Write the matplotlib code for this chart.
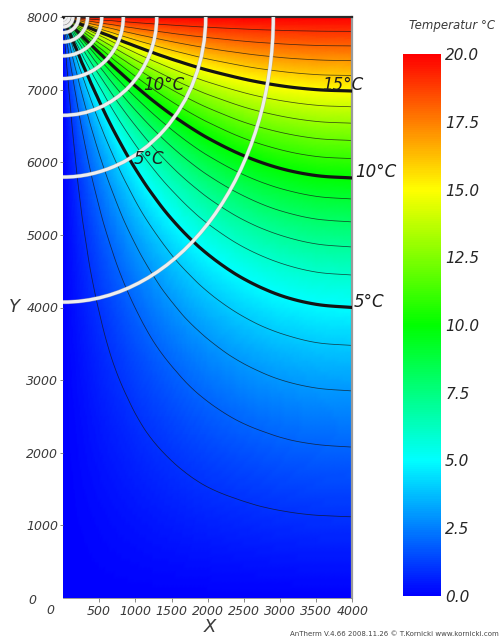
import numpy as np
import matplotlib
matplotlib.use('Agg')
import matplotlib.pyplot as plt
import matplotlib.tri as mtri
from matplotlib.colors import LinearSegmentedColormap, Normalize
from matplotlib.cm import ScalarMappable
from matplotlib.patches import Arc
import matplotlib.patheffects as pe

# ---------------- data (read / estimated from the picture) ----------------
x_grid = [0, 100, 200, 350, 500, 750, 1000, 1250, 1500, 1750, 2000, 2500, 3000, 3500, 4000]
depth_grid = [0, 100, 200, 350, 500, 750, 1000, 1250, 1500, 1750, 2000, 2250, 2500,
              3000, 3500, 4000, 4500, 5000, 5500, 6000, 6500, 7000, 7500, 8000]
# temperature (°C), one row per depth below the top edge (y = 8000 - depth)
temp_rows = [
    [10.0, 20.0, 20.0, 20.0, 20.0, 20.0, 20.0, 20.0, 20.0, 20.0, 20.0, 20.0, 20.0, 20.0, 20.0],
    [0.0, 10.00, 14.09, 16.44, 17.47, 18.29, 18.70, 18.94, 19.10, 19.21, 19.29, 19.40, 19.46, 19.49, 19.50],
    [0.0, 5.90, 9.99, 13.37, 15.12, 16.63, 17.42, 17.89, 18.21, 18.43, 18.58, 18.79, 18.91, 18.97, 18.99],
    [0.0, 3.53, 6.59, 9.96, 12.16, 14.35, 15.59, 16.37, 16.90, 17.27, 17.54, 17.90, 18.10, 18.21, 18.24],
    [0.0, 2.50, 4.81, 7.72, 9.91, 12.38, 13.92, 14.94, 15.64, 16.14, 16.52, 17.01, 17.30, 17.45, 17.50],
    [0.0, 1.66, 3.27, 5.47, 7.36, 9.81, 11.55, 12.79, 13.70, 14.38, 14.89, 15.58, 15.99, 16.21, 16.27],
    [0.0, 1.24, 2.45, 4.17, 5.73, 7.94, 9.66, 10.98, 11.99, 12.77, 13.38, 14.22, 14.73, 15.00, 15.09],
    [0.0, 0.97, 1.94, 3.33, 4.64, 6.57, 8.17, 9.47, 10.51, 11.34, 12.00, 12.95, 13.52, 13.84, 13.94],
    [0.0, 0.80, 1.59, 2.75, 3.85, 5.53, 6.98, 8.21, 9.23, 10.07, 10.75, 11.76, 12.38, 12.73, 12.84],
    [0.0, 0.67, 1.33, 2.31, 3.26, 4.72, 6.03, 7.17, 8.14, 8.96, 9.64, 10.66, 11.31, 11.68, 11.80],
    [0.0, 0.57, 1.14, 1.98, 2.80, 4.08, 5.25, 6.29, 7.20, 7.98, 8.64, 9.65, 10.32, 10.69, 10.81],
    [0.0, 0.49, 0.99, 1.72, 2.43, 3.56, 4.60, 5.55, 6.39, 7.12, 7.75, 8.73, 9.39, 9.76, 9.88],
    [0.0, 0.43, 0.86, 1.50, 2.12, 3.12, 4.06, 4.91, 5.68, 6.36, 6.96, 7.89, 8.53, 8.90, 9.02],
    [0.0, 0.33, 0.67, 1.16, 1.65, 2.44, 3.19, 3.88, 4.52, 5.10, 5.61, 6.44, 7.01, 7.35, 7.47],
    [0.0, 0.26, 0.53, 0.92, 1.30, 1.93, 2.53, 3.09, 3.62, 4.09, 4.52, 5.23, 5.73, 6.03, 6.13],
    [0.0, 0.21, 0.42, 0.73, 1.03, 1.53, 2.01, 2.47, 2.89, 3.29, 3.64, 4.23, 4.66, 4.91, 5.00],
    [0.0, 0.17, 0.33, 0.58, 0.82, 1.22, 1.60, 1.97, 2.31, 2.62, 2.91, 3.40, 3.75, 3.97, 4.04],
    [0.0, 0.13, 0.26, 0.45, 0.65, 0.96, 1.26, 1.55, 1.82, 2.08, 2.31, 2.70, 2.99, 3.16, 3.22],
    [0.0, 0.10, 0.20, 0.35, 0.50, 0.74, 0.98, 1.21, 1.42, 1.62, 1.80, 2.11, 2.33, 2.47, 2.52],
    [0.0, 0.08, 0.15, 0.27, 0.38, 0.56, 0.74, 0.91, 1.07, 1.22, 1.36, 1.59, 1.77, 1.87, 1.91],
    [0.0, 0.05, 0.11, 0.19, 0.27, 0.40, 0.53, 0.65, 0.77, 0.88, 0.98, 1.14, 1.27, 1.35, 1.37],
    [0.0, 0.04, 0.07, 0.12, 0.17, 0.26, 0.34, 0.42, 0.50, 0.57, 0.63, 0.74, 0.82, 0.87, 0.89],
    [0.0, 0.02, 0.03, 0.06, 0.09, 0.13, 0.17, 0.21, 0.24, 0.28, 0.31, 0.36, 0.40, 0.43, 0.43],
    [0.0, 0.0, 0.0, 0.0, 0.0, 0.0, 0.0, 0.0, 0.0, 0.0, 0.0, 0.0, 0.0, 0.0, 0.0],
]
thin_levels = [1, 2, 3, 4, 6, 7, 8, 9, 11, 12, 13, 14, 16, 17, 18, 19]
thick_levels = [5, 10, 15]

# heat-flux lines: where each white arc meets the top edge (x) and the left edge (y)
flux_top_x = [55, 87, 137, 216, 339, 535, 833, 1295, 1972, 2906]
flux_left_y = [7945, 7913, 7863, 7784, 7656, 7465, 7152, 6646, 5796, 4074]

# isotherm labels: text, x, y (start of label on the line)
iso_labels = [("15°C", 3576, 6990), ("10°C", 4036, 5800), ("5°C", 4010, 4006),
              ("10°C", 1110, 6990), ("5°C", 972, 5981)]

x_ticks = [500, 1000, 1500, 2000, 2500, 3000, 3500, 4000]
y_ticks = [1000, 2000, 3000, 4000, 5000, 6000, 7000, 8000]
cbar_ticks = [0.0, 2.5, 5.0, 7.5, 10.0, 12.5, 15.0, 17.5, 20.0]

# ---------------- figure ----------------
W, H = 501, 639
fig = plt.figure(figsize=(W / 100, H / 100), dpi=100)
fig.patch.set_facecolor('white')

cmap = LinearSegmentedColormap.from_list(
    'antherm', [(0.0, '#0000ff'), (0.25, '#00ffff'), (0.5, '#00ff00'),
                (0.75, '#ffff00'), (1.0, '#ff0000')])
norm = Normalize(0, 20)

X = np.array(x_grid, dtype=float)
Y = 8000.0 - np.array(depth_grid, dtype=float)
Z = np.array(temp_rows, dtype=float)
Y = Y[::-1]
Z = Z[::-1, :]

# triangulated measurement grid, smoothed for drawing by matplotlib's own refiner
XX, YY = np.meshgrid(X, Y)
ny, nx = Z.shape
tris = []
for i in range(ny - 1):
    for j in range(nx - 1):
        a = i * nx + j
        b = a + 1
        c = a + nx
        d = c + 1
        tris.append([a, b, d])
        tris.append([a, d, c])
tri = mtri.Triangulation(XX.ravel(), YY.ravel(), np.array(tris))
interp = mtri.CubicTriInterpolator(tri, Z.ravel(), kind='geom')
tri_f, z_f = mtri.UniformTriRefiner(tri).refine_field(Z.ravel(), triinterpolator=interp, subdiv=3)
z_f = np.clip(z_f, 0, 20)

ax = fig.add_axes([63 / W, 1 - 598 / H, 289.5 / W, 581 / H])
ax.tripcolor(tri_f, z_f, cmap=cmap, norm=norm, shading='gouraud', zorder=1)
ax.tricontour(tri_f, z_f, levels=thin_levels, colors='#151515', linewidths=0.55, alpha=0.75, zorder=2)
ax.tricontour(tri_f, z_f, levels=thick_levels, colors='#141414', linewidths=2.3, zorder=3)

for tx, ly in zip(flux_top_x, flux_left_y):
    arc = Arc((0, 8000), width=2 * tx, height=2 * (8000 - ly), theta1=270, theta2=360,
              color='#eeeeee', lw=2.3, zorder=4)
    arc.set_path_effects([pe.Stroke(linewidth=3.0, foreground='#a8a8a8', alpha=0.6), pe.Normal()])
    ax.add_patch(arc)

txt_kw = dict(fontsize=12, style='italic', color='#1e1e1e', family='DejaVu Sans')
for s, lx, ly in iso_labels:
    ax.text(lx, ly, s, ha='left', va='baseline', clip_on=False, zorder=6, **txt_kw)

ax.set_xlim(0, 4000)
ax.set_ylim(0, 8000)
ax.set_xticks(x_ticks)
ax.set_yticks(y_ticks)
ax.set_xticklabels([str(v) for v in x_ticks])
ax.set_yticklabels([str(v) for v in y_ticks])
for lab in ax.get_xticklabels() + ax.get_yticklabels():
    lab.set_fontstyle('italic')
    lab.set_fontsize(9)
    lab.set_color('#3a3a3a')
ax.tick_params(axis='x', length=3, width=0.6, color='#777777', pad=2.2)
ax.tick_params(axis='y', length=2.5, width=0.6, color='#777777', pad=0.8)

ax.spines['top'].set_color('#2a2a2a')
ax.spines['top'].set_linewidth(1.6)
ax.spines['right'].set_color('#9a9a9a')
ax.spines['right'].set_linewidth(1.6)
ax.spines['left'].set_visible(False)
ax.spines['bottom'].set_color('#8a8a8a')
ax.spines['bottom'].set_linewidth(0.6)

lab_kw = dict(style='italic', color='#3a3a3a', family='DejaVu Sans')
fig.text(32 / W, 1 - 600 / H, '0', fontsize=9, ha='center', va='center', **lab_kw)
fig.text(50 / W, 1 - 611 / H, '0', fontsize=9, ha='center', va='center', **lab_kw)
fig.text(14 / W, 1 - 307 / H, 'Y', fontsize=13, ha='center', va='center', **lab_kw)
fig.text(210 / W, 1 - 627 / H, 'X', fontsize=13, ha='center', va='center', **lab_kw)

# colorbar
cax = fig.add_axes([403 / W, 1 - 596 / H, 38 / W, 542 / H])
cb = fig.colorbar(ScalarMappable(norm=norm, cmap=cmap), cax=cax, ticks=cbar_ticks)
cb.outline.set_visible(False)
cb.ax.set_yticklabels([f'{t:.1f}' for t in cbar_ticks])
cb.ax.tick_params(length=0, pad=3)
for lab in cb.ax.get_yticklabels():
    lab.set_fontstyle('italic')
    lab.set_fontsize(11)
    lab.set_color('#262626')

fig.text(452 / W, 1 - 25 / H, 'Temperatur °C', fontsize=8.5, ha='center', va='center', **lab_kw)
fig.text(499 / W, 1 - 634 / H, 'AnTherm V.4.66 2008.11.26 © T.Kornicki www.kornicki.com',
         fontsize=5, ha='right', va='center', color='#444444', family='DejaVu Sans')

fig.savefig('out.png', dpi=100)
